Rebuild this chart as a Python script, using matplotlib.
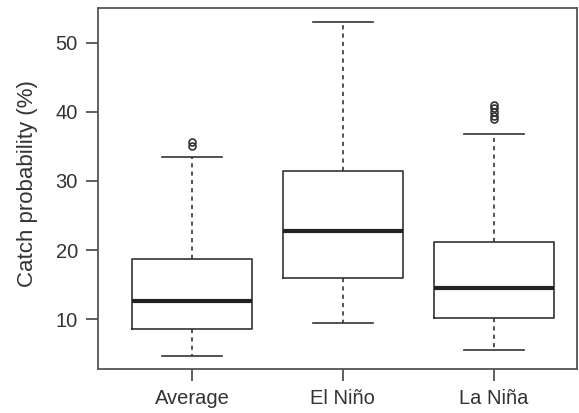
import matplotlib
matplotlib.use("Agg")
import matplotlib.pyplot as plt

plt.rcParams["font.family"] = ["Liberation Sans", "DejaVu Sans"]

categories = ["Average", "El Niño", "La Niña"]
whislo = [4.75, 9.5, 5.55]
q1 = [8.55, 16.0, 10.15]
medians = [12.65, 22.75, 14.5]
q3 = [18.7, 31.5, 21.2]
whishi = [33.4, 53.0, 36.8]
fliers = [[35.0, 35.6], [], [39.0, 39.4, 39.9, 40.5, 41.0]]

stats = []
for i, c in enumerate(categories):
    stats.append(dict(label=c, whislo=whislo[i], q1=q1[i], med=medians[i],
                      q3=q3[i], whishi=whishi[i], fliers=fliers[i]))

col = "#333333"
fig = plt.figure(figsize=(5.79, 4.13), dpi=100)
ax = fig.add_axes([98/579, 1-369/413, (577-98)/579, (369-8)/413])
ax.bxp(stats, positions=[1, 2, 3], widths=0.8, showfliers=True,
       boxprops=dict(color=col, linewidth=1.2),
       medianprops=dict(color="#222222", linewidth=3.0, solid_capstyle="butt"),
       whiskerprops=dict(color=col, linewidth=1.2, linestyle=(0, (2.5, 2.5))),
       capprops=dict(color=col, linewidth=1.2),
       capwidths=0.4,
       flierprops=dict(marker="o", markersize=5, markerfacecolor="none",
                       markeredgecolor=col, markeredgewidth=1.2))
ax.set_xlim(0.378, 3.55)
ax.set_ylim(2.8, 55.0)
ax.set_yticks([10, 20, 30, 40, 50])
ax.set_xticks([1, 2, 3])
ax.set_xticklabels(categories)
ax.tick_params(axis="both", direction="out", length=8.5, width=1.2, color="#444444",
               labelsize=14.5, labelcolor="#333333", pad=6)
ax.set_ylabel("Catch probability (%)", fontsize=16, color="#333333", va="center")
ax.yaxis.set_label_coords(-0.148, 0.514)
for s in ax.spines.values():
    s.set_color("#555555")
    s.set_linewidth(1.3)
fig.savefig("out.png", dpi=100)
